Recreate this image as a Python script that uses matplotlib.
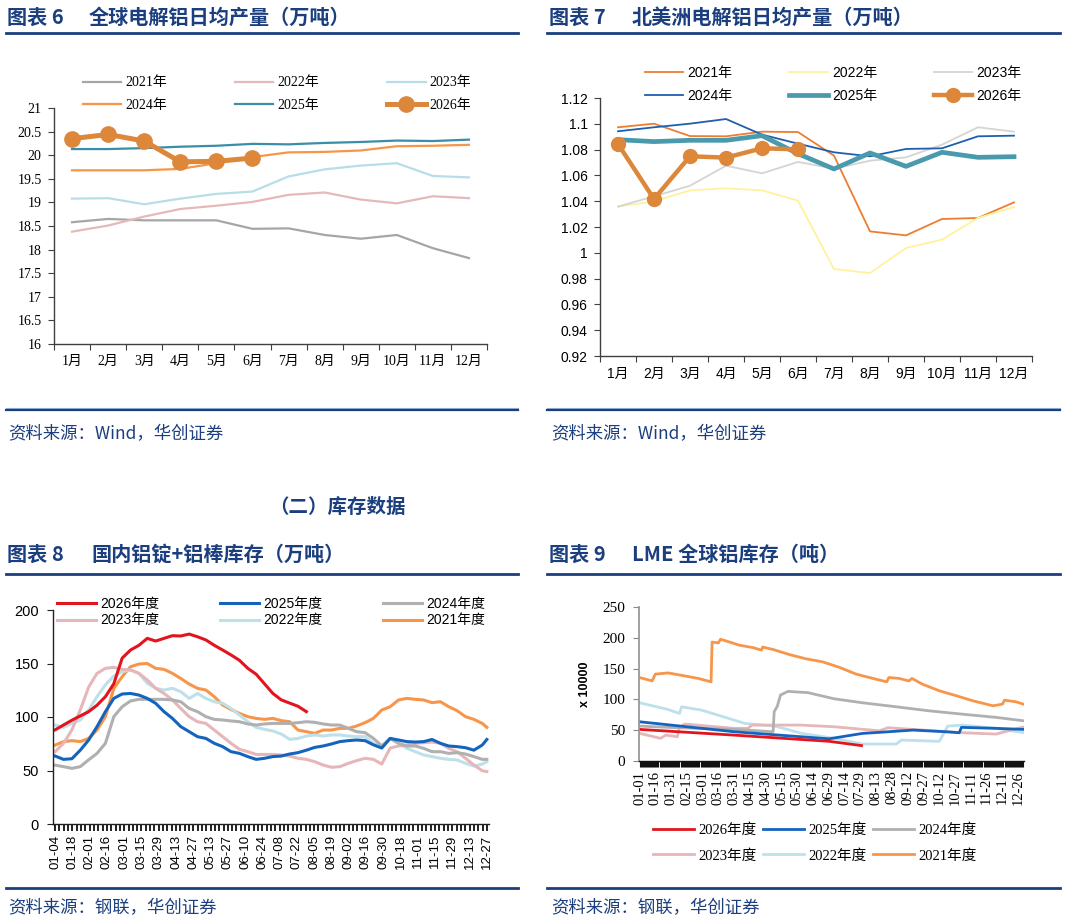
import numpy as np
import matplotlib
matplotlib.use("Agg")
import matplotlib.pyplot as plt
from matplotlib.lines import Line2D
from matplotlib.ticker import FuncFormatter

W, H = 1066, 923
NAVY = "#1B3F7E"
SERIF = ["Liberation Serif", "Noto Sans CJK SC"]
SANS = ["Liberation Sans", "Noto Sans CJK SC"]
CJK = ["Noto Sans CJK SC", "DejaVu Sans"]

# ---- chart 6: global primary aluminium daily output (10k t)
months = ["1月", "2月", "3月", "4月", "5月", "6月", "7月", "8月", "9月", "10月", "11月", "12月"]
glb_2021 = [18.58, 18.65, 18.62, 18.62, 18.62, 18.44, 18.45, 18.31, 18.23, 18.31, 18.03, 17.82]
glb_2022 = [18.38, 18.51, 18.70, 18.86, 18.93, 19.01, 19.16, 19.21, 19.06, 18.98, 19.13, 19.09]
glb_2023 = [19.08, 19.09, 18.96, 19.08, 19.18, 19.23, 19.55, 19.70, 19.78, 19.83, 19.56, 19.53]
glb_2024 = [19.68, 19.68, 19.68, 19.71, 19.83, 19.96, 20.06, 20.07, 20.10, 20.19, 20.20, 20.22]
glb_2025 = [20.13, 20.13, 20.15, 20.18, 20.20, 20.24, 20.23, 20.26, 20.28, 20.31, 20.30, 20.33]
glb_2026 = [20.35, 20.44, 20.30, 19.86, 19.87, 19.94]

# ---- chart 7: North America daily output (10k t)
na_2021 = [1.0973, 1.1001, 1.0905, 1.0903, 1.0939, 1.0936, 1.0753, 1.0166, 1.0135, 1.0262, 1.0270, 1.0391]
na_2022 = [1.0358, 1.0399, 1.0484, 1.0500, 1.0484, 1.0404, 0.9874, 0.9843, 1.0037, 1.0102, 1.0270, 1.0355]
na_2023 = [1.0358, 1.0438, 1.0520, 1.0675, 1.0616, 1.0704, 1.0652, 1.0714, 1.0740, 1.0838, 1.0973, 1.0939]
na_2024 = [1.0942, 1.0973, 1.1001, 1.1037, 1.0916, 1.0846, 1.0779, 1.0748, 1.0805, 1.0810, 1.0903, 1.0908]
na_2025 = [1.0877, 1.0862, 1.0872, 1.0872, 1.0908, 1.0768, 1.0650, 1.0774, 1.0670, 1.0779, 1.0740, 1.0745]
na_2026 = [1.0843, 1.0417, 1.0748, 1.0738, 1.0810, 1.0802]

# ---- chart 8: domestic ingot + billet stocks (10k t), sampled every ~2 categories
n_cat8 = 101
step8 = 1.94
labels8 = ["01-04", "01-18", "02-01", "02-16", "03-01", "03-15", "03-29", "04-13", "04-27",
           "05-13", "05-27", "06-10", "06-24", "07-08", "07-22", "08-05", "08-19", "09-02",
           "09-16", "09-30", "10-18", "11-01", "11-15", "11-29", "12-13", "12-27"]
st_2026 = [88, 92.5, 97, 101, 105, 111, 119, 131, 155, 162.6, 167, 173.5, 171, 173.5, 176, 175.7,
           177.5, 175, 172, 167, 162.6, 158, 153, 145.5, 140, 131, 122, 116, 113, 110, 105]
st_2025 = [63.5, 60.4, 61, 69, 78.5, 91, 105, 117.4, 121.5, 122, 120.5, 117.4, 112.8, 105, 98.7,
           91, 86.3, 81.6, 80, 75.4, 72.3, 67.6, 66, 63, 60.4, 61.4, 63, 63.5, 65.4, 66.7, 69, 71.6,
           72.9, 74.8, 77, 77.9, 78.5, 77.9, 74, 71, 80, 78.5, 77, 76.6, 77, 79, 75.4, 72.9, 72.3,
           71.3, 69, 73.8, 79]
st_2024 = [55, 53.6, 52, 53.6, 60, 66, 75.4, 100.3, 109.6, 115, 116.5, 116.5, 116.5, 116.5, 115.9,
           114.3, 108, 105, 100.3, 97.8, 97.2, 96.3, 95.6, 93.5, 92.5, 93.5, 94, 94, 94, 94.7, 95.6,
           95, 93.5, 92.5, 92.5, 89.4, 86.3, 85.4, 80, 73, 80, 75.4, 72.9, 72.9, 70.7, 67.6, 67.6,
           66, 66.7, 65.4, 63, 60.4, 60.4]
st_2023 = [67.6, 75.4, 88, 106.5, 128, 140.8, 145.5, 146.4, 144.5, 144, 140.8, 134.6, 126.8, 122,
           115.9, 108, 100.3, 95.6, 94, 87.8, 81.6, 75.4, 69.8, 67.6, 65, 65, 65, 64.5, 63.5, 61.4,
           60.4, 58.2, 55.1, 53, 53.6, 56.7, 59.2, 61.4, 60.4, 56, 71, 72.9, 73.8, 75.4, 76, 76.6,
           75.4, 70.7, 67.6, 61.4, 55.1, 49.8, 49]
st_2022 = [92.5, 90.3, 94, 97.2, 106.5, 119, 130, 138.3, 142.4, 144, 140.8, 131.5, 126.8, 125.2,
           126.8, 123.7, 117.4, 122, 117.4, 114.3, 112.8, 108, 101.9, 95.6, 90.3, 88.5, 86.9, 84.1,
           79.1, 80, 82.2, 83.2, 82.2, 83.2, 83.2, 82.2, 81.6, 81.6, 75.4, 72, 80, 75.4, 70.7, 67.6,
           64.5, 63, 61.4, 60.4, 59.8, 56.7, 54.2, 56, 58.2]
st_2021 = [73.8, 77, 77.9, 77, 80, 87.8, 100.3, 126.8, 137.7, 147, 149.5, 150, 145.5, 144.5, 140.8,
           136, 130.8, 126.8, 125.2, 119, 111.2, 107, 103.4, 100.3, 98.7, 97.8, 98.7, 96.6, 95.6,
           87.8, 86.3, 84.7, 87.8, 87.8, 89.4, 89.4, 91.6, 94.7, 98.7, 106.5, 109.6, 115.9, 117.4,
           116.5, 115.9, 113.4, 114.3, 109.6, 105.9, 100.3, 97.8, 94, 90.3]

# ---- chart 9: LME aluminium stocks (x10000 t), day of year -> value
n_day9 = 366
labels9 = ["01-01", "01-16", "01-31", "02-15", "03-01", "03-16", "03-31", "04-15", "04-30",
           "05-15", "05-30", "06-14", "06-29", "07-14", "07-29", "08-13", "08-28", "09-12",
           "09-27", "10-12", "10-27", "11-11", "11-26", "12-11", "12-26"]
lme_2026_d = [0, 90, 180, 211]
lme_2026_v = [51.3, 42, 32, 25]
lme_2025_d = [0, 90, 180, 212, 228, 260, 291, 304, 306, 339, 365]
lme_2025_v = [63.7, 47.5, 36, 44.8, 46.5, 50.2, 47.5, 45.9, 54.6, 53, 51.3]
lme_2024_d = [0, 36, 90, 127, 128, 131, 134, 141, 160, 185, 212, 244, 275, 307, 339, 365]
lme_2024_v = [56.7, 54, 51.3, 47.5, 80, 89, 107, 113, 111, 101, 94.5, 88, 81.5, 76, 70.8, 65.3]
lme_2023_d = [0, 20, 25, 36, 38, 43, 90, 103, 107, 153, 185, 228, 236, 260, 307, 339, 362, 365]
lme_2023_v = [44.9, 36.8, 42, 39.4, 55, 60, 53, 53, 58.3, 58.3, 55.6, 49, 54, 51.3, 45.9, 43.7, 54, 55]
lme_2022_d = [0, 27, 38, 40, 59, 90, 100, 128, 137, 154, 185, 212, 244, 249, 285, 293, 307, 339, 365]
lme_2022_v = [94.5, 83.7, 77.2, 88, 82.6, 66.4, 61, 56.7, 53, 44.8, 36.8, 27.5, 27.5, 34, 31.9,
              56.7, 58.3, 53, 45.9]
lme_2021_d = [0, 12, 15, 27, 37, 56, 68, 69, 75, 77, 82, 95, 108, 116, 117, 127, 142, 158, 174,
              190, 206, 222, 235, 237, 247, 256, 259, 269, 285, 301, 317, 336, 345, 347, 358, 365]
lme_2021_v = [135.5, 130, 141, 143, 140, 134, 128.5, 193, 191.7, 197.6, 195, 188, 184, 180, 185,
              181, 173, 166, 161, 152, 141, 134, 128.5, 135.5, 134, 130, 134, 124.7, 114, 106,
              97.7, 89.6, 92.3, 98.8, 96, 92.3]

fig = plt.figure(figsize=(W / 100, H / 100), dpi=100)
fig.patch.set_facecolor("white")


def px_axes(x0, y0, x1, y1):
    return fig.add_axes([x0 / W, 1 - y1 / H, (x1 - x0) / W, (y1 - y0) / H])


def hline(x0, x1, y, lw, color):
    fig.add_artist(Line2D([x0 / W, x1 / W], [1 - y / H, 1 - y / H],
                          transform=fig.transFigure, color=color, lw=lw))


def ftext(x, y, s, **kw):
    fig.text(x / W, 1 - y / H, s, **kw)


def legend_px(handles, x, y, font, size, hl, cs, ls):
    fig.legend(handles=handles, loc="center left", bbox_to_anchor=(x / W, 1 - y / H),
               ncol=3, frameon=False, borderpad=0, borderaxespad=0, handletextpad=0.3,
               handlelength=hl, columnspacing=cs, labelspacing=ls,
               prop={"family": font, "size": size})


def style_axes(ax, font, spine_color="#404040"):
    for s in ["top", "right"]:
        ax.spines[s].set_visible(False)
    for s in ["left", "bottom"]:
        ax.spines[s].set_color(spine_color)
        ax.spines[s].set_linewidth(1.0)
    for lab in (ax.get_xticklabels() + ax.get_yticklabels()
                + ax.get_xticklabels(minor=True)):
        lab.set_family(font)


# ---- titles, rules and footers
ttl = dict(color=NAVY, fontsize=14.5, fontweight="bold", family=CJK, va="center", ha="left")
for x_pre, x_main, y, pre, main in [(7, 89, 17, "图表 6", "全球电解铝日均产量（万吨）"),
                                    (549, 632, 17, "图表 7", "北美洲电解铝日均产量（万吨）"),
                                    (7, 91, 554, "图表 8", "国内铝锭+铝棒库存（万吨）"),
                                    (549, 632, 554, "图表 9", "LME 全球铝库存（吨）")]:
    ftext(x_pre, y, pre, **ttl)
    ftext(x_main, y, main, **ttl)
ftext(337, 507, "（二）库存数据", color=NAVY, fontsize=14, fontweight="bold",
      family=CJK, va="center", ha="center")
for (a, b) in [(6, 518), (547, 1060)]:
    hline(a, b, 33, 2.0, NAVY)
    hline(a, b, 574, 2.0, NAVY)
    hline(a, b, 408, 0.8, "#9DB4D6")
    hline(a, b, 410, 1.6, NAVY)
    hline(a, b, 888, 2.0, NAVY)
src = dict(color=NAVY, fontsize=12.5, family=CJK, va="center", ha="left", style="italic")
ftext(8, 434, "资料来源：Wind，华创证券", **src)
ftext(551, 434, "资料来源：Wind，华创证券", **src)
ftext(8, 908, "资料来源：钢联，华创证券", **src)
ftext(551, 908, "资料来源：钢联，华创证券", **src)

# ---- chart 6
ax6 = px_axes(54, 108, 487, 344)
x12 = np.arange(12)
h6 = []
for vals, col, name in [(glb_2021, "#A6A6A6", "2021年"), (glb_2022, "#E6B9B8", "2022年"),
                        (glb_2023, "#B7DEE8", "2023年"), (glb_2024, "#F79646", "2024年"),
                        (glb_2025, "#3B8EA8", "2025年")]:
    h6 += ax6.plot(x12[:len(vals)], vals, color=col, lw=1.6, label=name)
h6 += ax6.plot(x12[:len(glb_2026)], glb_2026, color="#DD873A", lw=3.6, marker="o",
               markersize=11, label="2026年")
ax6.set_xlim(-0.5, 11.5)
ax6.set_ylim(16, 21)
ax6.set_yticks(np.arange(16, 21.01, 0.5))
ax6.yaxis.set_major_formatter(FuncFormatter(lambda v, p: f"{v:g}"))
ax6.set_xticks(np.arange(-0.5, 12, 1))
ax6.set_xticklabels([])
ax6.set_xticks(x12, minor=True)
ax6.set_xticklabels(months, minor=True, fontsize=10)
ax6.tick_params(axis="x", which="minor", length=0, pad=8)
ax6.tick_params(axis="x", which="major", length=4, color="#404040")
ax6.tick_params(axis="y", length=4, color="#404040", labelsize=10, pad=5)
style_axes(ax6, SERIF)
legend_px([h6[0], h6[3], h6[1], h6[4], h6[2], h6[5]], 83, 94, SERIF, 10, 2.75, 4.9, 0.65)

# ---- chart 7
ax7 = px_axes(600, 98, 1032, 356)
h7 = []
for vals, col, lw, name in [(na_2021, "#ED7D31", 1.3, "2021年"), (na_2022, "#FFF29C", 1.3, "2022年"),
                            (na_2023, "#D4D4D4", 1.3, "2023年"), (na_2024, "#1F5FAF", 1.3, "2024年"),
                            (na_2025, "#4A9AAE", 3.4, "2025年")]:
    h7 += ax7.plot(x12[:len(vals)], vals, color=col, lw=lw, label=name)
h7 += ax7.plot(x12[:len(na_2026)], na_2026, color="#DD873A", lw=3.2, marker="o",
               markersize=10, label="2026年")
ax7.set_xlim(-0.5, 11.5)
ax7.set_ylim(0.92, 1.12)
ax7.set_yticks(np.arange(0.92, 1.1201, 0.02))
ax7.yaxis.set_major_formatter(FuncFormatter(lambda v, p: f"{round(v, 2):g}"))
ax7.set_xticks(np.arange(-0.5, 12, 1))
ax7.set_xticklabels([])
ax7.set_xticks(x12, minor=True)
ax7.set_xticklabels(months, minor=True, fontsize=10)
ax7.tick_params(axis="x", which="minor", length=0, pad=8)
ax7.tick_params(axis="x", which="major", length=4, color="#404040")
ax7.tick_params(axis="y", length=4, color="#404040", labelsize=10, pad=5)
style_axes(ax7, SANS)
legend_px([h7[0], h7[3], h7[1], h7[4], h7[2], h7[5]], 645, 84.5, SANS, 10, 2.75, 4.1, 0.7)

# ---- chart 8
ax8 = px_axes(53, 610, 489, 824)
series8 = [(st_2021, "#F7964A", "2021年度"), (st_2022, "#BDE0EA", "2022年度"),
           (st_2023, "#E6B6B8", "2023年度"), (st_2024, "#B0B0B0", "2024年度"),
           (st_2025, "#1464BE", "2025年度"), (st_2026, "#E3141E", "2026年度")]
h8 = {}
for vals, col, name in series8:
    xs = np.minimum(np.arange(len(vals)) * step8, n_cat8 - 1)
    h8[name] = ax8.plot(xs, vals, color=col, lw=2.2, label=name)[0]
ax8.set_xlim(-0.5, n_cat8 - 0.5)
ax8.set_ylim(0, 200)
ax8.set_yticks(np.arange(0, 201, 50))
ax8.set_xticks(np.arange(n_cat8))
lab8 = [""] * n_cat8
for i, s in enumerate(labels8):
    lab8[i * 4] = s
ax8.set_xticklabels(lab8, rotation=90, fontsize=9.5)
ax8.tick_params(axis="x", length=5, width=1.3, color="#111111", pad=3)
ax8.tick_params(axis="y", length=4, color="#222222", labelsize=10.5, pad=6)
style_axes(ax8, SANS, "#222222")
legend_px([h8["2026年度"], h8["2023年度"], h8["2025年度"], h8["2022年度"], h8["2024年度"],
           h8["2021年度"]], 57, 612, SANS, 10, 2.8, 4.4, 0.2)

# ---- chart 9
ax9 = px_axes(639, 607, 1024, 761)
series9 = [(lme_2021_d, lme_2021_v, "#F7964A", "2021年度"), (lme_2022_d, lme_2022_v, "#BDE0EA", "2022年度"),
           (lme_2023_d, lme_2023_v, "#E6B6B8", "2023年度"), (lme_2024_d, lme_2024_v, "#B0B0B0", "2024年度"),
           (lme_2025_d, lme_2025_v, "#1464BE", "2025年度"), (lme_2026_d, lme_2026_v, "#E3141E", "2026年度")]
h9 = {}
for d, v, col, name in series9:
    h9[name] = ax9.plot(d, v, color=col, lw=2.0, label=name)[0]
ax9.set_xlim(-0.5, n_day9 - 0.5)
ax9.set_ylim(0, 250)
ax9.set_yticks(np.arange(0, 251, 50))
ax9.set_yticklabels([str(v) for v in range(0, 251, 50)], family=SERIF)
ax9.set_xticks(np.arange(0, n_day9, 15))
ax9.set_xticklabels(labels9, rotation=90, fontsize=10.5, family=SERIF)
ax9.set_xticks(np.arange(n_day9), minor=True)
ax9.tick_params(axis="x", which="both", length=4, width=0.8, color="#111111", pad=3)
ax9.tick_params(axis="y", length=4, color="#888888", labelsize=11, pad=6)
style_axes(ax9, SERIF, "#111111")
ax9.spines["left"].set_color("#999999")
ax9.spines["left"].set_linewidth(1.3)
ax9.set_ylabel("x 10000", family=SANS, fontsize=9, fontweight="bold", labelpad=8)
legend_px([h9["2026年度"], h9["2023年度"], h9["2025年度"], h9["2022年度"], h9["2024年度"],
           h9["2021年度"]], 653, 843, SERIF, 10.5, 2.8, 0.45, 0.8)

fig.savefig("out.png", dpi=100, facecolor="white")
